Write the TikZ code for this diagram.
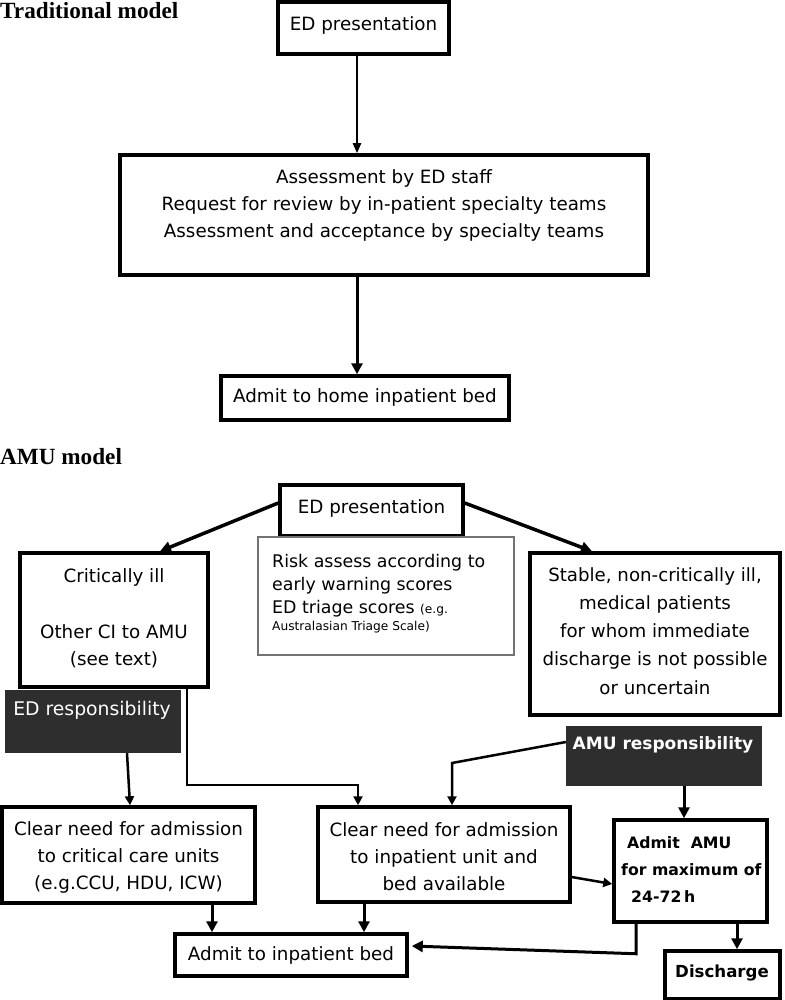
\documentclass[tikz,border=0pt]{standalone}
\usepackage{fontspec}
\setmainfont{DejaVu Sans}
\newfontfamily\titlefont{Liberation Serif}
\usetikzlibrary{arrows.meta}
\newcommand\fs{\fontsize{18.3}{27}\selectfont}
\newcommand\fsm{\fontsize{17.4}{23}\selectfont}
\newcommand\fst{\fontsize{12.2}{13}\selectfont}
\begin{document}
\begin{tikzpicture}[x=1pt,y=-1pt,
  box/.style={draw, line width=3.5pt, inner sep=0pt},
  thinbox/.style={draw=black!55, line width=1.3pt, inner sep=0pt},
  darkbox/.style={fill=black!82, draw=none, inner sep=0pt},
  txt/.style={inner sep=0pt, align=center, font=\fs},
  wtxt/.style={inner sep=0pt, align=center, font=\fs, text=white},
  title/.style={inner sep=0pt, anchor=west, font=\titlefont\bfseries\fontsize{23.2}{24}\selectfont},
  arr/.style={line width=3pt, -{Triangle[length=11pt,width=11pt]}},
  thinarr/.style={line width=2pt, -{Triangle[length=10pt,width=8pt]}},
  conn/.style={line width=2.5pt, -{Triangle[length=9pt,width=9pt]}}
]
\useasboundingbox (0,0) rectangle (784,1000);

% ---------------- Traditional model ----------------
\node[title] (t1) at (0,11) {Traditional model};
\node[box, minimum width=171pt, minimum height=52pt] (ed1) at (363.5,28) {};
\draw[line width=5pt] (ed1.north west) -- (ed1.north east);
\node[txt] (ed1t) at (363.5,25) {ED presentation};

\node[box, minimum width=528pt, minimum height=120pt] (assess) at (384,215) {};
\node[txt] (assesst) at (384,205) {Assessment by ED staff\\Request for review by in-patient specialty teams\\Assessment and acceptance by specialty teams};

\node[box, minimum width=288pt, minimum height=44pt] (home) at (365,398) {};
\node[txt] (homet) at (365,397) {Admit to home inpatient bed};

\draw[thinarr] ([xshift=-6.5pt]ed1.south) -- ([xshift=-6.5pt]ed1.south |- assess.north);
\draw[arr] ([xshift=-27pt]assess.south) -- ([xshift=-27pt]assess.south |- home.north);

% ---------------- AMU model ----------------
\node[title] (t2) at (0,457) {AMU model};

\node[box, minimum width=183pt, minimum height=51pt] (ed2) at (371.5,510.5) {};
\node[txt] (ed2t) at (371.5,508) {ED presentation};

\node[thinbox, minimum width=256pt, minimum height=118pt] (risk) at (386,596) {};
\node[inner sep=0pt, anchor=west, align=left, font=\fsm] (riskt) at (272,594)
  {Risk assess according to\\early warning scores\\ED triage scores {\fst(e.g.}\\[-6pt]{\fst Australasian Triage Scale)}};

\node[box, minimum width=188pt, minimum height=134pt] (crit) at (114,620) {};
\node[txt] (critt1) at (114,577) {Critically ill};
\node[txt] (critt2) at (114,646) {Other CI to AMU\\(see text)};

\node[darkbox, minimum width=176pt, minimum height=63pt] (edresp) at (93,721.5) {};
\node[wtxt, font=\fontsize{18.8}{20}\selectfont] (edrespt) at (92,710) {ED responsibility};

\node[box, minimum width=250pt, minimum height=162pt] (stable) at (655,634) {};
\node[txt, font=\fontsize{18.2}{28.2}\selectfont] (stablet) at (655,631)
  {Stable, non-critically ill,\\medical patients\\for whom immediate\\discharge is not possible\\or uncertain};

\node[darkbox, minimum width=196pt, minimum height=60pt] (amuresp) at (664,756) {};
\node[wtxt, font=\bfseries\fontsize{17}{20}\selectfont] (amurespt) at (663,745) {AMU responsibility};

\node[box, minimum width=253pt, minimum height=96pt] (critcare) at (128.5,855) {};
\node[txt] (critcaret) at (128.5,857) {Clear need for admission\\to critical care units\\(e.g.CCU, HDU, ICW)};

\node[box, minimum width=252pt, minimum height=95pt] (inpt) at (444,854.5) {};
\node[txt] (inptt) at (444,857) {Clear need for admission\\to inpatient unit and\\bed available};

\node[box, minimum width=153pt, minimum height=102pt] (amuadm) at (690.5,871) {};
\node[inner sep=0pt, anchor=west, align=left, font=\bfseries\fontsize{15.7}{27}\selectfont] (amuadmt) at (621,870)
  {\hspace*{6pt}Admit\ \ AMU\\for maximum of\\\hspace*{10pt}24-72\,h};

\node[box, minimum width=232pt, minimum height=42pt] (admitbed) at (291,955) {};
\node[txt] (admitbedt) at (291,955) {Admit to inpatient bed};

\node[box, minimum width=115pt, minimum height=48pt] (disch) at (722.5,975) {};
\node[txt, font=\bfseries\fontsize{16.6}{20}\selectfont] (discht) at (722,973) {Discharge};

% connectors AMU
\draw[arr, line width=3.5pt] ([yshift=7.5pt]ed2.west) -- ([xshift=46pt]crit.north);
\draw[arr, line width=3.5pt] ([yshift=7.5pt]ed2.east) -- ([xshift=-63pt]stable.north);

\draw[conn] ([xshift=73pt]crit.south) -- ++(0,96) -| ([xshift=-86pt]inpt.north);
\draw[conn] ([xshift=34pt]edresp.south) -- ([xshift=1.5pt]critcare.north);
\draw[conn] ([yshift=14pt]amuresp.west) -- ([xshift=8pt,yshift=-7pt]inpt.north |- amuresp.west) -- ([xshift=8pt]inpt.north);
\draw[arr] ([xshift=20pt]amuresp.south) -- ([xshift=20pt]amuresp.south |- amuadm.north);
\draw[conn] ([xshift=-3pt,yshift=-22pt]inpt.east) -- ([yshift=-13pt]amuadm.west);
\draw[arr] ([xshift=83.5pt]critcare.south) -- ([xshift=83.5pt]critcare.south |- admitbed.north);
\draw[arr] ([xshift=-80pt]inpt.south) -- ([xshift=-80pt]inpt.south |- admitbed.north);
\draw[arr] ([xshift=-54.5pt]amuadm.south) -- ++(0,30) -- ([yshift=9pt,xshift=3pt]admitbed.east);
\draw[arr] ([xshift=46.5pt]amuadm.south) -- ([xshift=46.5pt]amuadm.south |- disch.north);
\end{tikzpicture}
\end{document}
